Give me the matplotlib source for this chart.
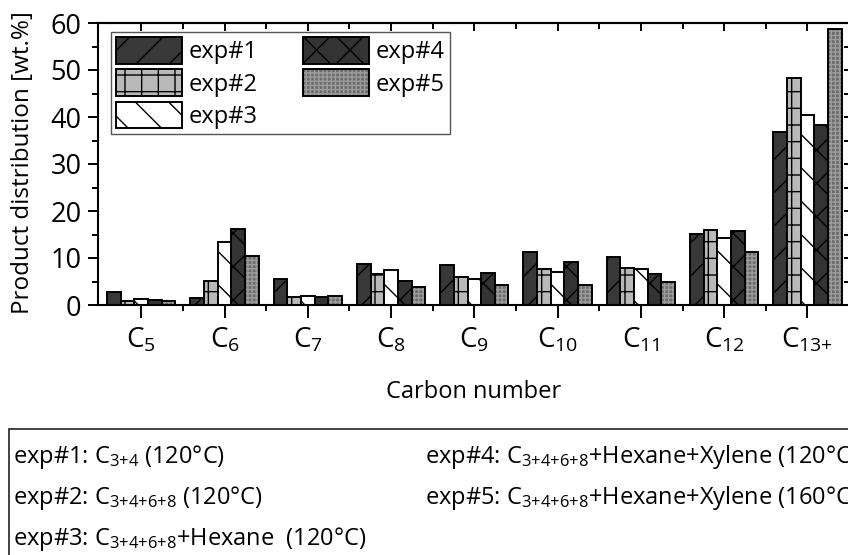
import numpy as np
import matplotlib
matplotlib.use("Agg")
import matplotlib.pyplot as plt
from matplotlib.ticker import MultipleLocator, FixedLocator, NullFormatter
from matplotlib.patches import Rectangle
from matplotlib.legend_handler import HandlerTuple

plt.rcParams.update({
    "font.family": "Open Sans",
    "mathtext.fontset": "custom",
    "mathtext.rm": "Open Sans",
    "mathtext.default": "regular",
    "hatch.linewidth": 1.0,
})

# carbon numbers (subscripts of C)
carbons = ["5", "6", "7", "8", "9", "10", "11", "12", "13{+}"]

# product distribution [wt.%] per experiment
exp1 = [2.8, 1.4, 5.5, 8.8, 8.5, 11.3, 10.2, 15.1, 36.8]
exp2 = [0.85, 5.2, 1.6, 6.7, 6.0, 7.7, 7.8, 16.0, 48.4]
exp3 = [1.2, 13.3, 1.9, 7.4, 5.5, 7.1, 7.6, 14.2, 40.4]
exp4 = [1.0, 16.2, 1.6, 5.2, 6.9, 9.1, 6.6, 15.8, 38.2]
exp5 = [0.85, 10.5, 1.85, 3.9, 4.25, 4.25, 5.0, 11.3, 58.8]

names = ["exp#1", "exp#2", "exp#3", "exp#4", "exp#5"]

notes_left = [
    "exp#1: C$_{3{+}4}$ (120°C)",
    "exp#2: C$_{3{+}4{+}6{+}8}$ (120°C)",
    "exp#3: C$_{3{+}4{+}6{+}8}$+Hexane  (120°C)",
]
notes_right = [
    "exp#4: C$_{3{+}4{+}6{+}8}$+Hexane+Xylene (120°C)",
    "exp#5: C$_{3{+}4{+}6{+}8}$+Hexane+Xylene (160°C)",
]

fig = plt.figure(figsize=(8.48, 5.55), dpi=100)
ax = fig.add_axes([98 / 848, 1 - 305 / 555, 752.7 / 848, 282 / 555])

x = np.arange(len(carbons))
w = 0.164
lw = 1.4

styles = [
    ("#383838", "/"),
    ("#b9b9b9", "+"),
    ("white", "\\"),
    ("#333333", "x"),
]
handles = []
for i, (vals, (fc, hat)) in enumerate(zip([exp1, exp2, exp3, exp4], styles)):
    bc = ax.bar(x + (i - 2) * w, vals, w, color=fc, edgecolor="black",
                hatch=hat, linewidth=lw, zorder=2)
    handles.append(bc.patches[0])

# exp5: fine grey texture, then a black outline on top
tex = ax.bar(x + 2 * w, exp5, w, color="#6c6c6c", edgecolor="#9c9c9c",
             hatch="++++", linewidth=0, zorder=2)
out = ax.bar(x + 2 * w, exp5, w, fill=False, edgecolor="black",
             linewidth=lw, zorder=3)
handles.append((tex.patches[0], out.patches[0]))

ax.set_xlim(-0.52, 8.52)
ax.set_ylim(0, 60)

ax.set_xticks(x, ["C$_{%s}$" % c for c in carbons], fontsize=20)
ax.xaxis.set_minor_locator(FixedLocator(x[:-1] + 0.5))
ax.yaxis.set_major_locator(MultipleLocator(10))
ax.yaxis.set_minor_locator(MultipleLocator(5))
ax.tick_params(axis="x", which="major", direction="out", length=9, width=1.4, pad=6)
ax.tick_params(axis="x", which="minor", direction="out", length=4, width=1.4)
ax.tick_params(axis="y", which="major", direction="out", length=7, width=1.4,
               pad=5, labelsize=19.5)
ax.tick_params(axis="y", which="minor", direction="out", length=4, width=1.4)
for s in ax.spines.values():
    s.set_linewidth(1.5)

# mirrored ticks on top and right, pointing inward
top = ax.secondary_xaxis("top")
top.set_xticks(x)
top.xaxis.set_minor_locator(FixedLocator(x[:-1] + 0.5))
top.xaxis.set_major_formatter(NullFormatter())
top.tick_params(which="major", direction="in", length=6, width=1.4)
top.tick_params(which="minor", direction="in", length=4, width=1.4)
top.spines["top"].set_linewidth(1.5)

right = ax.secondary_yaxis("right")
right.yaxis.set_major_locator(MultipleLocator(10))
right.yaxis.set_minor_locator(MultipleLocator(5))
right.yaxis.set_major_formatter(NullFormatter())
right.tick_params(which="both", direction="in", length=5, width=1.4)

fig.text(23 / 848, 1 - 163 / 555, "Product distribution [wt.%]", rotation=90,
         ha="center", va="center", fontsize=17.5)
fig.text(474 / 848, 1 - 392 / 555, "Carbon number", ha="center", va="center",
         fontsize=17)

leg = ax.legend(handles, names, ncol=2, loc="upper left",
                bbox_to_anchor=(13 / 752.7, 1 - 9.3 / 282), borderaxespad=0,
                fontsize=17, handlelength=2.8, handleheight=1.36,
                labelspacing=0.22, handletextpad=0.3, columnspacing=1.9,
                borderpad=0.2, fancybox=False, framealpha=1,
                handler_map={tuple: HandlerTuple(ndivide=1)})
leg.get_frame().set_edgecolor("#555555")
leg.get_frame().set_linewidth(1.0)

# box with the experiment descriptions
fig.patches.append(Rectangle((9 / 848, -0.1), 1.0, 0.1 + 1 - 429 / 555,
                             transform=fig.transFigure, fill=False,
                             edgecolor="#333333", linewidth=1.3))
for k, t in enumerate(notes_left):
    fig.text(13 / 848, 1 - (463 + 41 * k) / 555, t, ha="left", va="baseline",
             fontsize=17)
for k, t in enumerate(notes_right):
    fig.text(425 / 848, 1 - (463 + 41 * k) / 555, t, ha="left", va="baseline",
             fontsize=17)

fig.savefig("out.png", dpi=100)
